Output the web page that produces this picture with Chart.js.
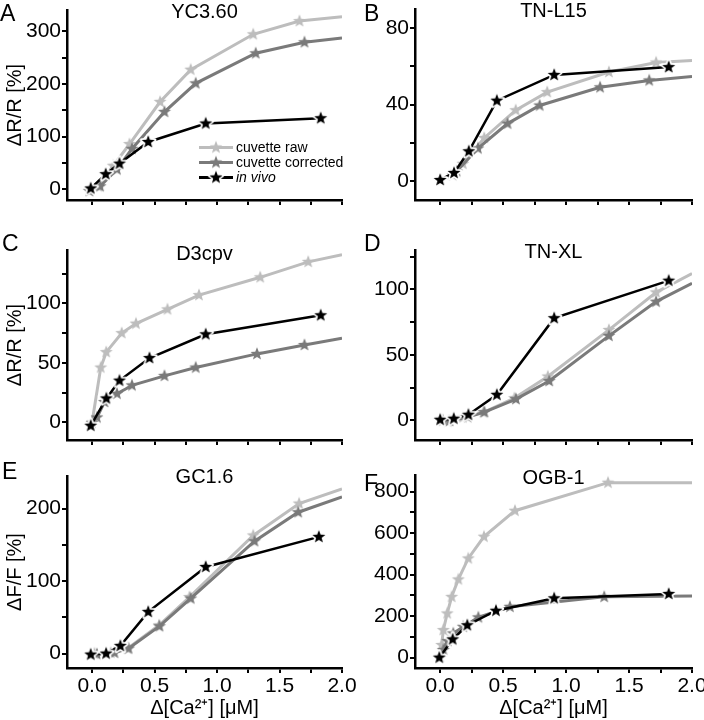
<!DOCTYPE html>
<html>
<head>
<meta charset="utf-8">
<script src="https://cdn.jsdelivr.net/npm/chart.js@4.4.1/dist/chart.umd.min.js"></script>
<style>
  body { margin: 0; background: #fff; font-family: 'Liberation Sans', Arial, sans-serif; color: #000; }
  #wrap { position: relative; width: 704px; height: 720px; overflow: hidden; }
  #wrap > canvas { position: absolute; }
  .letter { position: absolute; font-size: 23px; line-height: 23px; }
  .ptitle { position: absolute; font-size: 20px; line-height: 20px; text-align: center; }
  #legend { position: absolute; left: 199px; top: 140px; font-size: 14px; line-height: 15px; }
  #legend div { display: flex; align-items: center; height: 15px; }
  #legend canvas { margin-right: 3px; }
</style>
</head>
<body>
<div id="wrap">
  <canvas id="cA" width="380" height="230" style="left:0;top:0"></canvas>
  <canvas id="cB" width="352" height="230" style="left:352px;top:0"></canvas>
  <canvas id="cC" width="380" height="230" style="left:0;top:230px"></canvas>
  <canvas id="cD" width="352" height="230" style="left:352px;top:230px"></canvas>
  <canvas id="cE" width="380" height="260" style="left:0;top:460px"></canvas>
  <canvas id="cF" width="352" height="260" style="left:352px;top:460px"></canvas>

  <div class="letter" style="left:0;top:2px">A</div>
  <div class="letter" style="left:364px;top:2px">B</div>
  <div class="letter" style="left:2px;top:232px">C</div>
  <div class="letter" style="left:364px;top:232px">D</div>
  <div class="letter" style="left:2px;top:460px">E</div>
  <div class="letter" style="left:364px;top:472px">F</div>

  <div class="ptitle" style="left:67px;width:275px;top:1px">YC3.60</div>
  <div class="ptitle" style="left:415px;width:277px;top:0">TN-L15</div>
  <div class="ptitle" style="left:67px;width:275px;top:243px">D3cpv</div>
  <div class="ptitle" style="left:415px;width:277px;top:241px">TN-XL</div>
  <div class="ptitle" style="left:67px;width:275px;top:466px">GC1.6</div>
  <div class="ptitle" style="left:415px;width:277px;top:467px">OGB-1</div>

  <div id="legend"></div>
</div>
<script>
const seriesNames = ['cuvette raw', 'cuvette corrected', 'in vivo'];
const seriesColors = ['#bdbdbd', '#7a7a7a', '#000000'];

const xTicks = [0, 0.25, 0.5, 0.75, 1, 1.25, 1.5, 1.75, 2];
const xLabelTicks = [0, 0.5, 1, 1.5, 2];

// A - YC3.60
const aRawX = [-0.02, 0.05, 0.17, 0.3, 0.545, 0.79, 1.29, 1.66, 2.0];
const aRawY = [-2, 6, 45, 86, 166, 227, 294, 319, 327];
const aCorrX = [-0.02, 0.065, 0.2, 0.32, 0.58, 0.83, 1.31, 1.7, 2.0];
const aCorrY = [-3, 6, 38, 77, 147, 201, 258, 279, 287];
const aVivoX = [-0.01, 0.11, 0.22, 0.45, 0.91, 1.83];
const aVivoY = [2, 29, 49, 90, 125, 135];
const aYTicks = [0, 50, 100, 150, 200, 250, 300];
const aYLabels = [0, 100, 200, 300];

// B - TN-L15
const bRawX = [0, 0.1, 0.18, 0.35, 0.6, 0.85, 1.34, 1.715, 2.0];
const bRawY = [0, 3, 9, 22.5, 37, 46.5, 57, 62, 63];
const bCorrX = [0, 0.13, 0.3, 0.535, 0.79, 1.27, 1.66, 2.0];
const bCorrY = [0, 5, 17, 30, 39.5, 49, 52.6, 54.7];
const bVivoX = [0, 0.11, 0.227, 0.45, 0.905, 1.815];
const bVivoY = [0.5, 4.2, 15.5, 42, 55.5, 59.6];
const bYTicks = [0, 20, 40, 60, 80];
const bYLabels = [0, 40, 80];

// C - D3cpv
const cRawX = [0, 0.07, 0.114, 0.238, 0.352, 0.604, 0.856, 1.346, 1.73, 2.0];
const cRawY = [-0.5, 46, 59, 75, 83, 95, 107, 122, 135, 141];
const cCorrX = [0, 0.04, 0.1, 0.2, 0.32, 0.58, 0.83, 1.32, 1.7, 2.0];
const cCorrY = [-0.5, 4, 17, 24, 31, 39, 46, 57.5, 65, 70.7];
const cVivoX = [-0.01, 0.115, 0.22, 0.46, 0.91, 1.83];
const cVivoY = [-3, 20, 35, 54, 74, 90];
const cYTicks = [0, 25, 50, 75, 100, 125];
const cYLabels = [0, 50, 100];

// D - TN-XL
const dRawX = [0, 0.06, 0.18, 0.344, 0.59, 0.855, 1.34, 1.715, 2.0];
const dRawY = [0, -0.8, 2.3, 6.1, 17, 33.5, 69, 97.7, 112];
const dCorrX = [0.02, 0.074, 0.219, 0.351, 0.602, 0.866, 1.34, 1.715, 2.0];
const dCorrY = [0, -0.5, 2.5, 6.3, 16.2, 30, 64.5, 90.6, 104.6];
const dVivoX = [0, 0.108, 0.224, 0.45, 0.905, 1.815];
const dVivoY = [0.5, 1.3, 4.3, 19.5, 78, 106.6];
const dYTicks = [0, 25, 50, 75, 100, 125];
const dYLabels = [0, 50, 100];

// E - GC1.6
const eRawX = [0.02, 0.15, 0.285, 0.536, 0.78, 1.29, 1.657, 2.0];
const eRawY = [0, 1, 7, 39, 78, 163, 207, 227];
const eCorrX = [0.04, 0.18, 0.293, 0.54, 0.79, 1.3, 1.65, 2.0];
const eCorrY = [-1, 1, 7, 37.7, 76, 155, 195, 216];
const eVivoX = [-0.01, 0.113, 0.227, 0.45, 0.91, 1.815];
const eVivoY = [-1.4, 0, 10.6, 57.5, 119.5, 161];
const eYTicks = [0, 50, 100, 150, 200];
const eYLabels = [0, 100, 200];

// F - OGB-1
const fRawX = [0, 0.012, 0.025, 0.056, 0.091, 0.144, 0.223, 0.348, 0.594, 1.333, 2.0];
const fRawY = [0, 61, 133, 213, 293, 377, 478, 583, 708, 843, 843];
const fCorrX = [0, 0.025, 0.06, 0.104, 0.183, 0.303, 0.554, 1.303, 2.0];
const fCorrY = [0, 37, 80, 117, 149, 194, 245, 293, 297];
const fVivoX = [-0.007, 0.099, 0.215, 0.443, 0.905, 1.815];
const fVivoY = [0, 88, 156, 226, 286, 307];
const fYTicks = [0, 100, 200, 300, 400, 500, 600, 700, 800];
const fYLabels = [0, 200, 400, 600, 800];

const FONT = "'Liberation Sans', Arial, sans-serif";
const xTitle = 'Δ[Ca²⁺] [μM]';

// filled five point star used as marker
function makeStar(color, halo) {
  const c = document.createElement('canvas');
  c.width = c.height = 18;
  const g = c.getContext('2d');
  g.beginPath();
  for (let i = 0; i < 10; i++) {
    const r = i % 2 ? 2.9 : 6.8;
    const a = -Math.PI / 2 + i * Math.PI / 5;
    g.lineTo(9 + r * Math.cos(a), 9 + r * Math.sin(a));
  }
  g.closePath();
  if (halo) {
    g.strokeStyle = '#fff';
    g.lineWidth = halo;
    g.lineJoin = 'round';
    g.stroke();
  }
  g.fillStyle = color;
  g.fill();
  return c;
}

const stars = [makeStar(seriesColors[0], 0), makeStar(seriesColors[1], 0), makeStar(seriesColors[2], 3.5)];

function makePanel(id, p) {
  const series = [[p.rawX, p.rawY], [p.corrX, p.corrY], [p.vivoX, p.vivoY]];
  new Chart(document.getElementById(id), {
    type: 'line',
    data: {
      datasets: series.map((s, i) => ({
        label: seriesNames[i],
        data: s[0].map((x, j) => ({ x: x, y: s[1][j] })),
        borderColor: seriesColors[i],
        backgroundColor: seriesColors[i],
        borderWidth: i === 2 ? 2.5 : 3,
        pointStyle: stars[i],
        pointRadius: ctx => (ctx.raw && ctx.raw.x >= 2 ? 0 : 5),
        tension: 0,
        fill: false,
        order: 2 - i
      }))
    },
    options: {
      responsive: false,
      animation: false,
      events: [],
      layout: { padding: { left: 0, top: p.padTop, right: p.padRight, bottom: 0 } },
      plugins: { legend: { display: false }, tooltip: { enabled: false } },
      scales: {
        x: {
          type: 'linear',
          min: -0.2,
          max: 2.0,
          afterBuildTicks: s => { s.ticks = xTicks.map(v => ({ value: v })); },
          afterFit: s => { s.height = p.xH; s.paddingLeft = 0; s.paddingRight = 0; },
          ticks: {
            autoSkip: false,
            maxRotation: 0,
            padding: 1,
            color: '#000',
            font: { family: FONT, size: 21 },
            callback: v => (p.xLabels && xLabelTicks.includes(v) ? v.toFixed(1) : '')
          },
          grid: { drawOnChartArea: false, tickLength: 5, color: '#000', lineWidth: 2 },
          border: { color: '#000', width: 2.5 },
          title: {
            display: p.xLabels,
            text: xTitle,
            color: '#000',
            font: { family: FONT, size: 20 },
            padding: { top: 0, bottom: 0 }
          }
        },
        y: {
          type: 'linear',
          min: p.yMin,
          max: p.yMax,
          afterBuildTicks: s => { s.ticks = p.yTicks.map(v => ({ value: v })); },
          afterFit: s => { s.width = p.yW; s.paddingTop = 0; s.paddingBottom = 0; },
          ticks: {
            autoSkip: false,
            padding: 1,
            color: '#000',
            font: { family: FONT, size: 21 },
            callback: v => (p.yLabels.includes(v) ? String(v) : '')
          },
          grid: { drawOnChartArea: false, tickLength: 5, color: '#000', lineWidth: 2 },
          border: { color: '#000', width: 2.5 },
          title: {
            display: !!p.yTitle,
            text: p.yTitle || '',
            color: '#000',
            font: { family: FONT, size: 20 },
            padding: { top: 3, bottom: 0 }
          }
        }
      }
    }
  });
}

makePanel('cA', { rawX: aRawX, rawY: aRawY, corrX: aCorrX, corrY: aCorrY, vivoX: aVivoX, vivoY: aVivoY,
  yMin: -20, yMax: 340, yTicks: aYTicks, yLabels: aYLabels, yTitle: 'ΔR/R [%]',
  padTop: 10, padRight: 38, yW: 67, xH: 30, xLabels: false });
makePanel('cB', { rawX: bRawX, rawY: bRawY, corrX: bCorrX, corrY: bCorrY, vivoX: bVivoX, vivoY: bVivoY,
  yMin: -10, yMax: 90, yTicks: bYTicks, yLabels: bYLabels,
  padTop: 9, padRight: 12, yW: 63, xH: 30, xLabels: false });
makePanel('cC', { rawX: cRawX, rawY: cRawY, corrX: cCorrX, corrY: cCorrY, vivoX: cVivoX, vivoY: cVivoY,
  yMin: -15, yMax: 145, yTicks: cYTicks, yLabels: cYLabels, yTitle: 'ΔR/R [%]',
  padTop: 20, padRight: 38, yW: 67, xH: 20, xLabels: false });
makePanel('cD', { rawX: dRawX, rawY: dRawY, corrX: dCorrX, corrY: dCorrY, vivoX: dVivoX, vivoY: dVivoY,
  yMin: -15, yMax: 130, yTicks: dYTicks, yLabels: dYLabels,
  padTop: 20, padRight: 12, yW: 63, xH: 20, xLabels: false });
makePanel('cE', { rawX: eRawX, rawY: eRawY, corrX: eCorrX, corrY: eCorrY, vivoX: eVivoX, vivoY: eVivoY,
  yMin: -20, yMax: 245, yTicks: eYTicks, yLabels: eYLabels, yTitle: 'ΔF/F [%]',
  padTop: 16, padRight: 38, yW: 67, xH: 52, xLabels: true });
makePanel('cF', { rawX: fRawX, rawY: fRawY, corrX: fCorrX, corrY: fCorrY, vivoX: fVivoX, vivoY: fVivoY,
  yMin: -50, yMax: 880, yTicks: fYTicks, yLabels: fYLabels,
  padTop: 15, padRight: 12, yW: 63, xH: 52, xLabels: true });

// legend inside panel A
const legend = document.getElementById('legend');
seriesNames.forEach((name, i) => {
  const row = document.createElement('div');
  const c = document.createElement('canvas');
  c.width = 34; c.height = 15;
  const g = c.getContext('2d');
  g.strokeStyle = seriesColors[i];
  g.lineWidth = 3;
  g.beginPath(); g.moveTo(0, 7.5); g.lineTo(34, 7.5); g.stroke();
  g.drawImage(stars[i], 17 - 9, 7.5 - 9);
  const t = document.createElement('span');
  t.textContent = name;
  if (i === 2) t.style.fontStyle = 'italic';
  row.appendChild(c);
  row.appendChild(t);
  legend.appendChild(row);
});
</script>
</body>
</html>
